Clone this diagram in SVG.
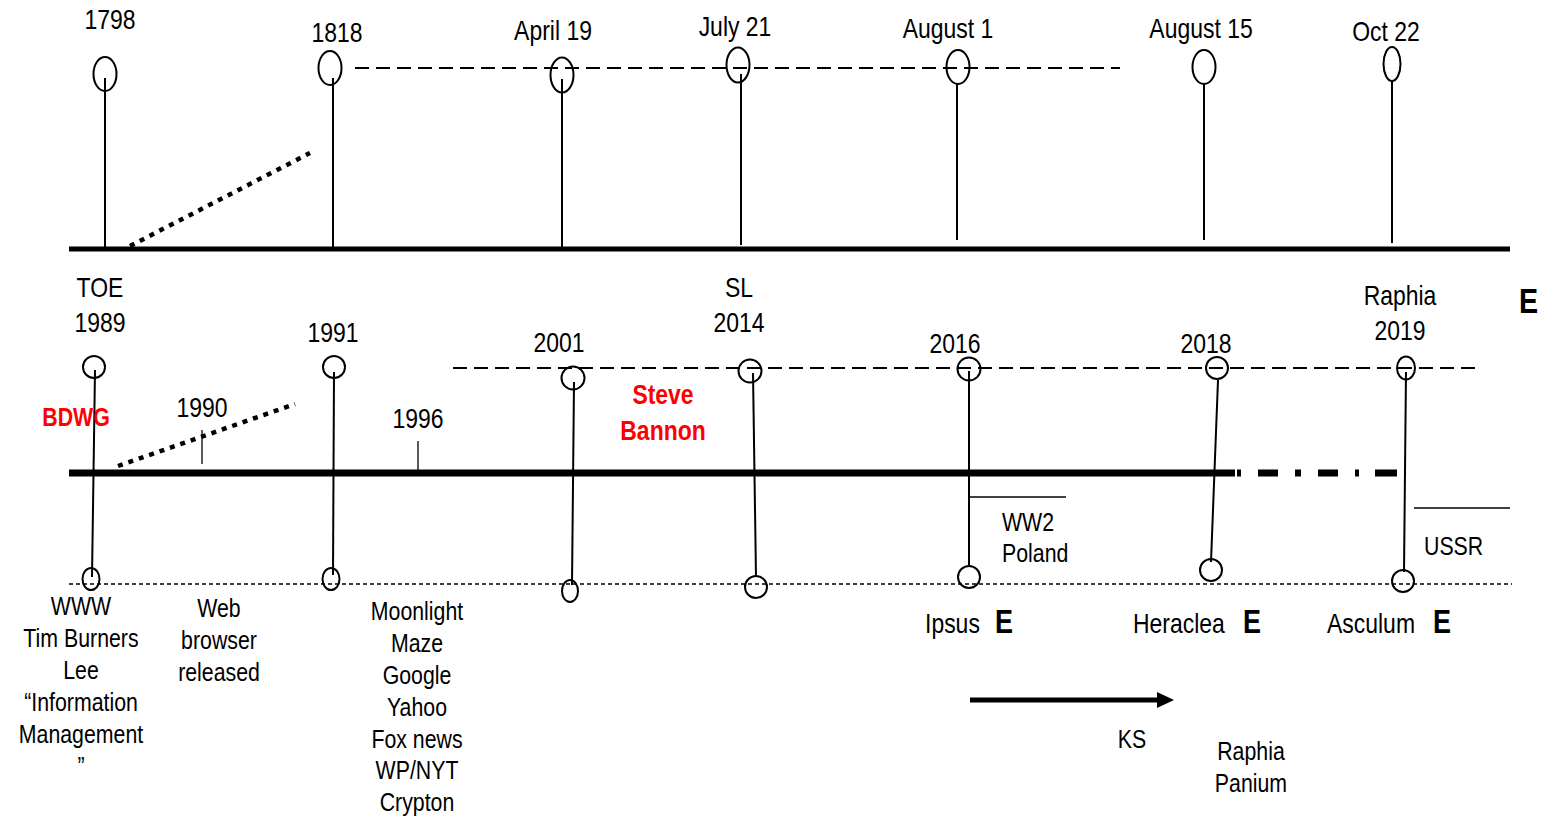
<svg xmlns="http://www.w3.org/2000/svg" width="1562" height="819" viewBox="0 0 1562 819">
<style>
text{font-family:"Liberation Sans","Arial",sans-serif;fill:#000}
.t{font-size:28px;text-anchor:middle}
.s{font-size:26px;text-anchor:middle}
.sl{font-size:26px;text-anchor:start}
.tl{font-size:28px;text-anchor:start}
.r{font-size:28px;font-weight:bold;fill:#ff0000;text-anchor:middle}
.e{font-size:33px;font-weight:bold;text-anchor:start}
.o{fill:none;stroke:#000;stroke-width:2}
.st{stroke:#000;stroke-width:2;fill:none}
.thin{stroke:#000;stroke-width:1.3;fill:none}
.dash{stroke:#000;stroke-width:1.8;stroke-dasharray:14 7;fill:none}
.dot{stroke:#000;stroke-width:1.3;stroke-dasharray:4 3;fill:none}
.sq{stroke:#000;stroke-width:4.5;stroke-dasharray:5 6;fill:none}
</style>
<rect width="1562" height="819" fill="#fff"/>
<g id="connectors">
<line x1="69" y1="249" x2="1510" y2="249" stroke="#000" stroke-width="5"/>
<line class="dash" x1="355" y1="68" x2="1120" y2="68"/>
<line class="sq" x1="130" y1="246" x2="310" y2="153"/>
<line x1="69" y1="473" x2="1235" y2="473" stroke="#000" stroke-width="7"/>
<path d="M1237 473H1241M1258 473H1278M1295 473H1301M1318 473H1338M1355 473H1359M1375 473H1397" stroke="#000" stroke-width="7" fill="none"/>
<line class="dash" x1="453" y1="368" x2="1476" y2="368" stroke-dasharray="13 7"/>
<line class="dot" x1="69" y1="584" x2="1512" y2="584"/>
<line class="sq" x1="118" y1="466" x2="295" y2="404"/>
<line class="thin" x1="202" y1="430" x2="202" y2="464"/>
<line class="thin" x1="418" y1="441" x2="418" y2="470"/>
<line class="thin" x1="969" y1="497" x2="1066" y2="497"/>
<line class="thin" x1="1414" y1="508" x2="1510" y2="508"/>
<line x1="970" y1="700" x2="1160" y2="700" stroke="#000" stroke-width="5"/>
<polygon points="1157,692 1174,700 1157,708" fill="#000"/>
</g>
<g id="n1798"><text class="t" transform="translate(110 29) scale(0.82 1)">1798</text><ellipse class="o" cx="105" cy="74" rx="11.5" ry="17"/><line class="st" x1="105" y1="78" x2="105" y2="248"/></g>
<g id="n1818"><text class="t" transform="translate(337 42) scale(0.82 1)">1818</text><ellipse class="o" cx="330" cy="68" rx="11.5" ry="17"/><line class="st" x1="333" y1="78" x2="333" y2="248"/></g>
<g id="april19"><text class="t" transform="translate(553 40) scale(0.82 1)">April 19</text><ellipse class="o" cx="562" cy="75" rx="11.5" ry="17.5"/><line class="st" x1="562" y1="79" x2="562" y2="248"/></g>
<g id="july21"><text class="t" transform="translate(735 36) scale(0.82 1)">July 21</text><ellipse class="o" cx="738" cy="65" rx="11.5" ry="17.5"/><line class="st" x1="741" y1="74" x2="741" y2="245"/></g>
<g id="august1"><text class="t" transform="translate(948 38) scale(0.82 1)">August 1</text><ellipse class="o" cx="958" cy="67" rx="11.5" ry="17"/><line class="st" x1="957" y1="84" x2="957" y2="240"/></g>
<g id="august15"><text class="t" transform="translate(1201 38) scale(0.82 1)">August 15</text><ellipse class="o" cx="1204" cy="67" rx="11.5" ry="17"/><line class="st" x1="1204" y1="84" x2="1204" y2="240"/></g>
<g id="oct22"><text class="t" transform="translate(1386 41) scale(0.82 1)">Oct 22</text><ellipse class="o" cx="1392" cy="64" rx="8.5" ry="17"/><line class="st" x1="1392" y1="82" x2="1392" y2="243"/></g>
<g id="n1989"><text class="t" transform="translate(100 297) scale(0.82 1)">TOE</text><text class="t" transform="translate(100 332) scale(0.82 1)">1989</text><circle class="o" cx="94" cy="367" r="11"/><line class="st" x1="95" y1="370" x2="92" y2="577"/><ellipse class="o" cx="91" cy="579" rx="8.5" ry="11"/>
<text class="s" transform="translate(81 615) scale(0.82 1)">WWW</text><text class="s" transform="translate(81 647) scale(0.82 1)">Tim Burners</text><text class="s" transform="translate(81 679) scale(0.82 1)">Lee</text><text class="s" transform="translate(81 711) scale(0.82 1)">“Information</text><text class="s" transform="translate(81 743) scale(0.82 1)">Management</text><text class="s" transform="translate(81 775) scale(0.82 1)">”</text></g>
<g id="bdwg"><text class="r" transform="translate(76 426) scale(0.82 1)" style="font-size:26px">BDWG</text></g>
<g id="n1990"><text class="t" transform="translate(202 417) scale(0.82 1)">1990</text>
<text class="s" transform="translate(219 617) scale(0.82 1)">Web</text><text class="s" transform="translate(219 649) scale(0.82 1)">browser</text><text class="s" transform="translate(219 681) scale(0.82 1)">released</text></g>
<g id="n1991"><text class="t" transform="translate(333 342) scale(0.82 1)">1991</text><circle class="o" cx="334" cy="367" r="11"/><line class="st" x1="334" y1="372" x2="333" y2="575"/><ellipse class="o" cx="331" cy="579" rx="8.5" ry="11"/></g>
<g id="n1996"><text class="t" transform="translate(418 428) scale(0.82 1)">1996</text>
<text class="s" transform="translate(417 620) scale(0.82 1)">Moonlight</text><text class="s" transform="translate(417 652) scale(0.82 1)">Maze</text><text class="s" transform="translate(417 684) scale(0.82 1)">Google</text><text class="s" transform="translate(417 716) scale(0.82 1)">Yahoo</text><text class="s" transform="translate(417 748) scale(0.82 1)">Fox news</text><text class="s" transform="translate(417 779) scale(0.82 1)">WP/NYT</text><text class="s" transform="translate(417 811) scale(0.82 1)">Crypton</text></g>
<g id="n2001"><text class="t" transform="translate(559 352) scale(0.82 1)">2001</text><circle class="o" cx="573" cy="378" r="11.5"/><line class="st" x1="574" y1="382" x2="572" y2="585"/><ellipse class="o" cx="570" cy="591" rx="8" ry="11"/></g>
<g id="bannon"><text class="r" transform="translate(663 404) scale(0.82 1)">Steve</text><text class="r" transform="translate(663 440) scale(0.82 1)">Bannon</text></g>
<g id="n2014"><text class="t" transform="translate(739 297) scale(0.82 1)">SL</text><text class="t" transform="translate(739 332) scale(0.82 1)">2014</text><circle class="o" cx="750" cy="371" r="11.5"/><line class="st" x1="753" y1="373" x2="756" y2="577"/><circle class="o" cx="756" cy="587" r="11"/></g>
<g id="n2016"><text class="t" transform="translate(955 353) scale(0.82 1)">2016</text><circle class="o" cx="969" cy="369" r="11.5"/><line class="st" x1="969" y1="371" x2="969" y2="567"/><circle class="o" cx="969" cy="577" r="11"/>
<text class="sl" transform="translate(1002 531) scale(0.82 1)">WW2</text><text class="sl" transform="translate(1002 562) scale(0.82 1)">Poland</text>
<text class="tl" transform="translate(925 633) scale(0.82 1)">Ipsus</text><text class="e" transform="translate(995 633) scale(0.82 1)">E</text></g>
<g id="n2018"><text class="t" transform="translate(1206 353) scale(0.82 1)">2018</text><circle class="o" cx="1217" cy="368" r="11"/><line class="st" x1="1218" y1="380" x2="1211" y2="562"/><circle class="o" cx="1211" cy="570" r="11"/>
<text class="tl" transform="translate(1133 633) scale(0.82 1)">Heraclea</text><text class="e" transform="translate(1243 633) scale(0.82 1)">E</text></g>
<g id="n2019"><text class="t" transform="translate(1400 305) scale(0.82 1)">Raphia</text><text class="t" transform="translate(1400 340) scale(0.82 1)">2019</text><ellipse class="o" cx="1406" cy="368" rx="9" ry="11.5"/><line class="st" x1="1406" y1="372" x2="1404" y2="572"/><circle class="o" cx="1403" cy="581" r="11"/>
<text class="sl" transform="translate(1424 555) scale(0.82 1)">USSR</text>
<text class="tl" transform="translate(1327 633) scale(0.82 1)">Asculum</text><text class="e" transform="translate(1433 633) scale(0.82 1)">E</text></g>
<g id="eTop"><text class="e" transform="translate(1519 313) scale(0.82 1)" style="font-size:35px">E</text></g>
<g id="ks"><text class="s" transform="translate(1132 748) scale(0.82 1)">KS</text><text class="s" transform="translate(1251 760) scale(0.82 1)">Raphia</text><text class="s" transform="translate(1251 792) scale(0.82 1)">Panium</text></g>
</svg>
